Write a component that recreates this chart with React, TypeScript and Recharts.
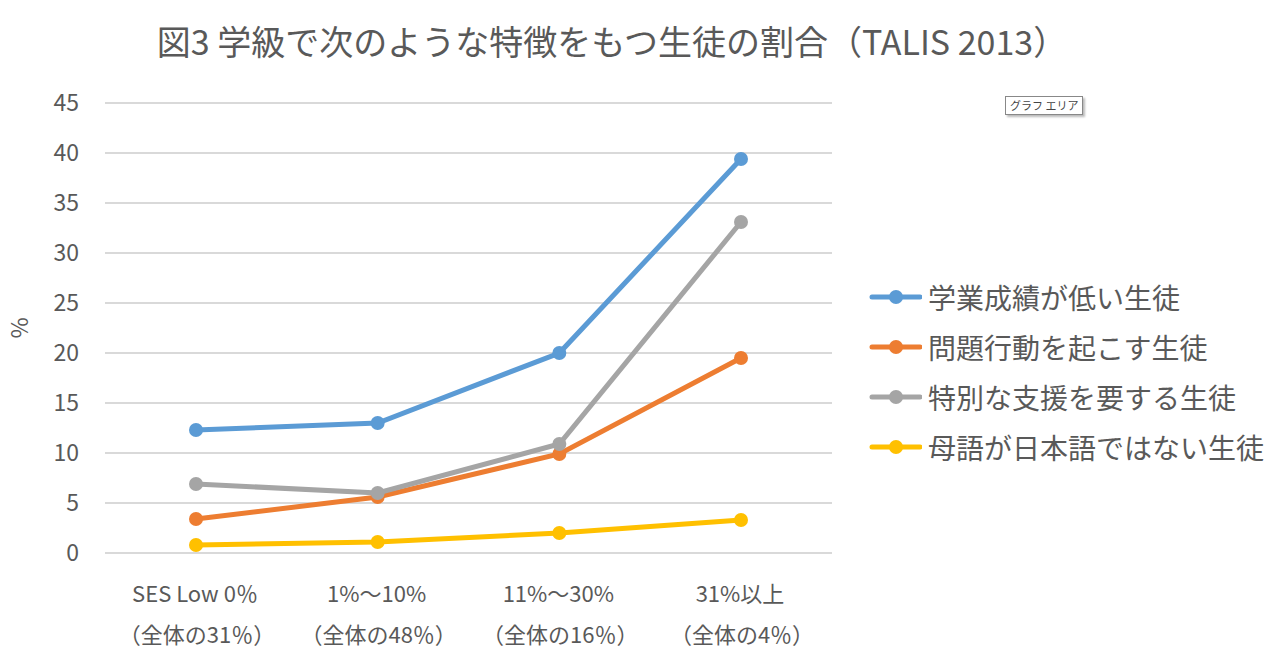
import { LineChart, Line, XAxis, YAxis, CartesianGrid } from 'recharts'

const categories = ['SES Low 0％', '1%～10%', '11%～30%', '31%以上']
const subLabels = ['（全体の31％）', '（全体の48％）', '（全体の16％）', '（全体の4％）']

const lowAchievers = [12.3, 13.0, 20.0, 39.4]
const behaviour = [3.4, 5.6, 9.9, 19.5]
const specialNeeds = [6.9, 6.0, 10.9, 33.1]
const nonNative = [0.8, 1.1, 2.0, 3.3]

const yTicks = [0, 5, 10, 15, 20, 25, 30, 35, 40, 45]

const series = [
  { key: 'low', name: '学業成績が低い生徒', color: '#5B9BD5', values: lowAchievers },
  { key: 'behav', name: '問題行動を起こす生徒', color: '#ED7D31', values: behaviour },
  { key: 'special', name: '特別な支援を要する生徒', color: '#A5A5A5', values: specialNeeds },
  { key: 'native', name: '母語が日本語ではない生徒', color: '#FFC000', values: nonNative },
]

const data = categories.map((c, i) => {
  const row: Record<string, string | number> = { name: c, sub: subLabels[i] }
  series.forEach(s => { row[s.key] = s.values[i] })
  return row
})

const FONT = '"Noto Sans CJK JP", "Noto Sans", sans-serif'
const TEXT = '#595959'

function XTick({ x, y, payload, index }: any) {
  return (
    <g>
      <text x={x - 1} y={y + 41} textAnchor="middle" fill={TEXT} fontSize={22} fontFamily={FONT}>
        {payload.value}
      </text>
      <text x={x + 1} y={y + 82} textAnchor="middle" fill={TEXT} fontSize={22} fontFamily={FONT}>
        {subLabels[index]}
      </text>
    </g>
  )
}

function LegendBox() {
  return (
    <div style={{ position: 'absolute', left: 868, top: 272, fontFamily: FONT, color: TEXT }}>
      {series.map(s => (
        <div key={s.key} style={{ display: 'flex', alignItems: 'center', height: 50 }}>
          <svg width={54} height={20} style={{ marginRight: 6 }}>
            <line x1={4} y1={10} x2={52} y2={10} stroke={s.color} strokeWidth={5} strokeLinecap="round" />
            <circle cx={28} cy={10} r={7} fill={s.color} />
          </svg>
          <span style={{ fontSize: 28, whiteSpace: 'nowrap' }}>{s.name}</span>
        </div>
      ))}
    </div>
  )
}

export default function App() {
  return (
    <div style={{ position: 'absolute', left: 0, top: 0, width: 1280, height: 658, background: '#fff', fontFamily: FONT }}>
      <div style={{ position: 'absolute', left: 0, width: 1224, top: 16, textAlign: 'center', fontSize: 34, color: TEXT, whiteSpace: 'nowrap' }}>
        図3 学級で次のような特徴をもつ生徒の割合（TALIS 2013）
      </div>
      <div style={{ position: 'absolute', left: 1005, top: 96, padding: '1px 4px', fontSize: 11, color: '#444', border: '1px solid #888', boxShadow: '2px 2px 2px #bbb', background: '#fff', lineHeight: '15px' }}>
        グラフ エリア
      </div>
      <LineChart width={1280} height={658} data={data} margin={{ top: 103, right: 448, bottom: 0, left: 0 }}>
        <CartesianGrid vertical={false} stroke="#d9d9d9" strokeWidth={2} />
        <XAxis
          dataKey="name"
          height={105}
          axisLine={false}
          tickLine={false}
          tick={<XTick />}
          interval={0}
          padding={{ left: 91, right: 91 }}
        />
        <YAxis
          width={105}
          domain={[0, 45]}
          ticks={yTicks}
          interval={0}
          axisLine={false}
          tickLine={false}
          tickSize={6}
          tickMargin={20}
          tick={{ fill: TEXT, fontSize: 23, fontFamily: FONT }}
          label={{
            content: () => (
              <text x={18} y={328} transform="rotate(-90 18 328)" textAnchor="middle" dominantBaseline="central" fill={TEXT} fontSize={23} fontFamily={FONT}>
                %
              </text>
            ),
          }}
        />
        {series.map(s => (
          <Line
            key={s.key}
            dataKey={s.key}
            name={s.name}
            stroke={s.color}
            strokeWidth={5}
            dot={{ r: 7, fill: s.color, stroke: s.color, strokeWidth: 0 }}
            activeDot={false}
            isAnimationActive={false}
          />
        ))}
      </LineChart>
      <LegendBox />
    </div>
  )
}
